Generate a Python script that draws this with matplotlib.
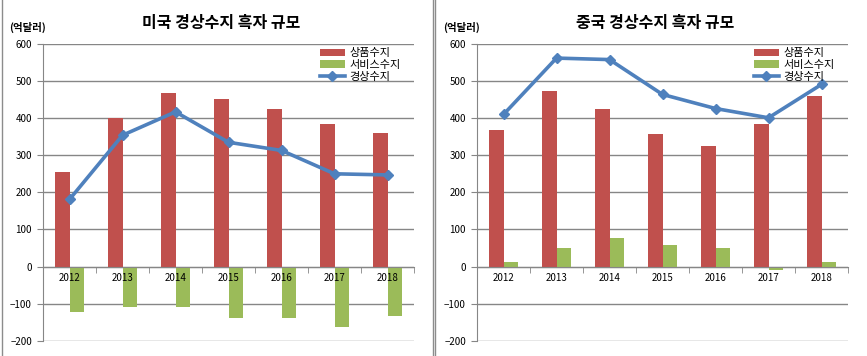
import matplotlib
matplotlib.use("Agg")
import matplotlib.pyplot as plt
from matplotlib.lines import Line2D
import numpy as np

plt.rcParams['font.family'] = ['Noto Sans CJK KR', 'DejaVu Sans']

years = ["2012", "2013", "2014", "2015", "2016", "2017", "2018"]

# 미국 (억달러)
us_goods = [256, 401, 469, 451, 424, 385, 361]
us_service = [-123, -110, -110, -139, -139, -164, -134]
us_current = [181, 354, 417, 335, 313, 250, 247]

# 중국 (억달러)
cn_goods = [369, 472, 426, 356, 326, 383, 461]
cn_service = [11, 51, 78, 57, 51, -10, 13]
cn_current = [410, 562, 558, 464, 426, 401, 491]

titles = ["미국 경상수지 흑자 규모", "중국 경상수지 흑자 규모"]
legend_labels = ["상품수지", "서비스수지", "경상수지"]
unit_label = "(억달러)"

red = "#C0504D"
green = "#9BBB59"
blue = "#4F81BD"
grid_gray = "#868686"

fig = plt.figure(figsize=(8.67, 3.56), dpi=100)
fig.patch.set_facecolor("white")

W, H = 867, 356
panels = [
    (43, us_goods, us_service, us_current),
    (477, cn_goods, cn_service, cn_current),
]

x = np.arange(len(years))
bw = 0.28

for i, (left_px, goods, service, current) in enumerate(panels):
    ax = fig.add_axes([left_px / W, 15.3 / H, 371 / W, 296.7 / H])
    ax.set_ylim(-200, 600)
    ax.set_xlim(-0.5, len(years) - 0.5)
    ax.set_yticks(range(-200, 601, 100))
    ax.yaxis.grid(True, color=grid_gray, linewidth=1.0)
    ax.set_axisbelow(True)

    b1 = ax.bar(x - bw / 2, goods, bw, color=red, label=legend_labels[0], zorder=2)
    b2 = ax.bar(x + bw / 2, service, bw, color=green, label=legend_labels[1], zorder=2)
    l1, = ax.plot(x, current, color=blue, linewidth=2.6, marker="D", markersize=5,
                  label=legend_labels[2], zorder=3)

    for s in ["top", "right"]:
        ax.spines[s].set_visible(False)
    ax.spines["left"].set_color(grid_gray)
    ax.spines["bottom"].set_color(grid_gray)
    ax.spines["bottom"].set_position(("data", 0))

    ax.set_xticks(x)
    ax.set_xticklabels(years, fontsize=7)
    ax.set_xticks(np.arange(-0.5, len(years), 1.0), minor=True)
    ax.tick_params(axis="x", which="major", length=0, pad=5)
    ax.tick_params(axis="x", which="minor", length=4, color=grid_gray, direction="out")
    ax.tick_params(axis="y", length=4, color=grid_gray, labelsize=7, pad=4)
    # year labels sit on top of the negative bars
    ax.xaxis.set_zorder(4)

    ax.text(0.48, 1.071, titles[i], transform=ax.transAxes, ha="center", va="center",
            fontsize=11.5, fontweight="bold")
    ax.text(-0.09, 1.055, unit_label, transform=ax.transAxes, ha="left", va="center",
            fontsize=7.5, fontweight="bold")

    ax.legend(handles=[b1, b2, l1], loc="upper left", bbox_to_anchor=(0.735, 1.0),
              frameon=False, fontsize=8, labelspacing=0.15, handlelength=2.2,
              handletextpad=0.4, borderaxespad=0.0)

# panel frame lines
for xp in [1.5, 432.5, 435]:
    fig.add_artist(Line2D([xp / W, xp / W], [0, 1], color="#8c8c8c", linewidth=1.0))

fig.savefig("out.png", dpi=100)
